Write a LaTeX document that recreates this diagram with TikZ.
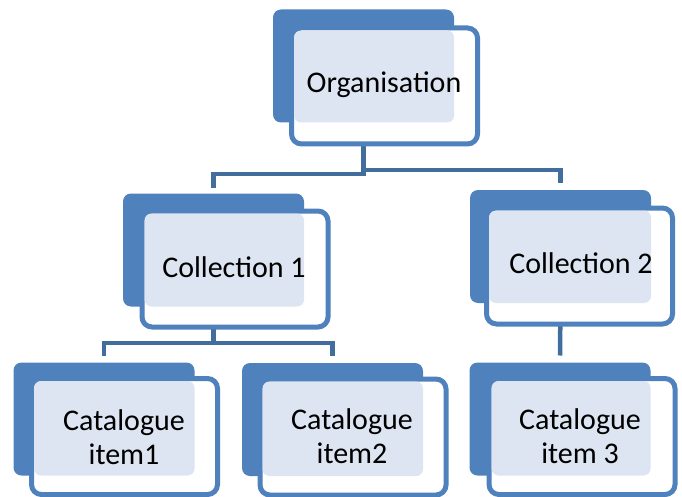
\documentclass[tikz,border=0pt]{standalone}
\usepackage{fontspec}
\setmainfont{Carlito}
\definecolor{boxblue}{RGB}{79,129,189}
\definecolor{connblue}{RGB}{66,110,158}
\definecolor{lightpat}{RGB}{220,229,241}
\tikzset{
  backbox/.style={rectangle, rounded corners=8pt, fill=boxblue, inner sep=0pt, outer sep=0pt, minimum width=181pt, minimum height=113pt},
  frontbox/.style={rectangle, rounded corners=10pt, draw=boxblue, line width=5pt, fill=white, inner sep=0pt, outer sep=0pt, minimum width=186pt, minimum height=116pt},
  overlap/.style={fill=lightpat, rounded corners=7pt},
  conn/.style={draw=connblue, line width=4.5pt},
  lbl/.style={font=\fontsize{30}{34}\selectfont, align=center, inner sep=0pt, text=black},
}
\begin{document}
\begin{tikzpicture}[x=1pt,y=-1pt]
\useasboundingbox (0,0) rectangle (682,497);
% back boxes
\node[backbox] (orgB) at (363.5,66) {};
\node[backbox] (c1B) at (213.5,250) {};
\node[backbox] (c2B) at (560.5,246.5) {};
\node[backbox] (i1B) at (104,419) {};
\node[backbox] (i2B) at (332.5,419.5) {};
\node[backbox] (i3B) at (560,419) {};
% junction coordinates
\coordinate (jOrgL) at (363.5,174);
\coordinate (jOrgR) at (363.5,170);
\coordinate (jC1) at (213.5,343);
% connectors
\draw[conn] (orgB.south) -- (jOrgL) -| ([yshift=5pt]c1B.north);
\draw[conn] (orgB.south) -- (jOrgR) -| ([yshift=7pt]c2B.north);
\draw[conn] (c1B.south) -- (jC1) -| ([yshift=7pt]i1B.north);
\draw[conn] (jC1) -| ([yshift=7pt]i2B.north);
\draw[conn] (c2B.south) -- ([yshift=7pt]i3B.north);
% front boxes
\node[frontbox] (orgF) at (384.5,86) {};
\node[frontbox] (c1F) at (235,269) {};
\node[frontbox] (c2F) at (579.5,266) {};
\node[frontbox] (i1F) at (124.5,436.5) {};
\node[frontbox] (i2F) at (353,437) {};
\node[frontbox] (i3F) at (582,436.5) {};
% overlap regions
\foreach \b/\f in {orgB/orgF,c1B/c1F,c2B/c2F,i1B/i1F,i2B/i2F,i3B/i3F}{
  \fill[overlap] ([shift={(2.5pt,-2.5pt)}]\f.north west) rectangle (\b.south east);
}
% labels
\node[lbl, anchor=base] (orgT) at (384,93) {Organisation};
\node[lbl, anchor=base] (c1T) at (234,277) {Collection 1};
\node[lbl, anchor=base] (c2T) at (581,273) {Collection 2};
\node[lbl, anchor=base] (i1T) at (124,464) {Catalogue\\item1};
\node[lbl, anchor=base] (i2T) at (352,463) {Catalogue\\item2};
\node[lbl, anchor=base] (i3T) at (580,463) {Catalogue\\item 3};
\end{tikzpicture}
\end{document}
